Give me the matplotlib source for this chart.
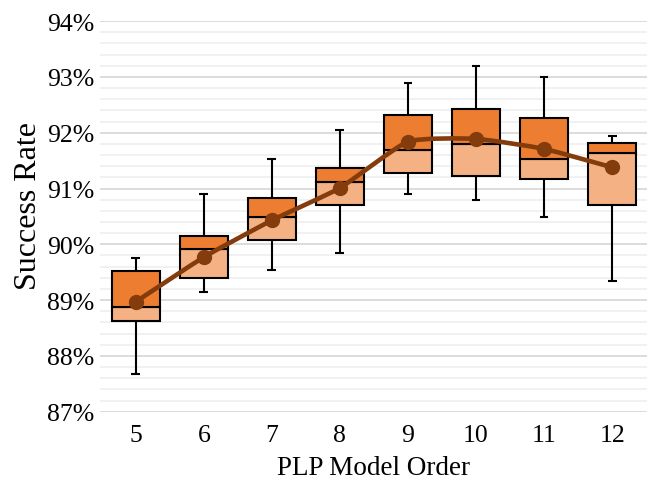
import numpy as np
import matplotlib
matplotlib.use("Agg")
from matplotlib import pyplot as plt, patches as pth
from matplotlib.path import Path
from matplotlib.ticker import MultipleLocator, FuncFormatter

# PLP model orders and box statistics (percent)
orders = [5, 6, 7, 8, 9, 10, 11, 12]
whisker_low = [87.67, 89.14, 89.54, 89.85, 90.91, 90.80, 90.49, 89.34]
q1 = [88.63, 89.39, 90.08, 90.70, 91.28, 91.22, 91.17, 90.70]
median = [88.87, 89.91, 90.49, 91.12, 91.69, 91.80, 91.53, 91.63]
q3 = [89.52, 90.15, 90.83, 91.37, 92.31, 92.42, 92.27, 91.82]
whisker_high = [89.75, 90.90, 91.53, 92.05, 92.89, 93.20, 92.99, 91.95]
mean = [88.97, 89.77, 90.43, 91.01, 91.84, 91.89, 91.71, 91.38]

DARK = "#ED7D31"
LIGHT = "#F4B183"
BROWN = "#843C0C"

plt.rcParams['font.family'] = ['Liberation Serif', 'DejaVu Serif']

fig = plt.figure(figsize=(6.56, 4.81), dpi=100)
ax = fig.add_axes([0.152, 0.142, 0.834, 0.812])

pos = np.arange(len(orders))
width = 0.71

# two-tone boxes: lower half light, upper half dark
ax.bar(pos, np.array(median) - np.array(q1), bottom=q1, width=width,
       color=LIGHT, edgecolor="black", linewidth=1.5, zorder=3)
ax.bar(pos, np.array(q3) - np.array(median), bottom=median, width=width,
       color=DARK, edgecolor="black", linewidth=1.5, zorder=3)

# whiskers and caps
ax.vlines(pos, q3, whisker_high, color="black", linewidth=1.5, zorder=2)
ax.vlines(pos, whisker_low, q1, color="black", linewidth=1.5, zorder=2)
cap = 0.065
ax.hlines(whisker_high, pos - cap, pos + cap, color="black", linewidth=1.5, zorder=2)
ax.hlines(whisker_low, pos - cap, pos + cap, color="black", linewidth=1.5, zorder=2)

# smoothed mean line (Bezier through mean points)
pts = np.column_stack([pos, mean]).astype(float)
verts = [pts[0]]
codes = [Path.MOVETO]
for i in range(len(pts) - 1):
    p0 = pts[i - 1] if i > 0 else pts[i]
    p1 = pts[i]
    p2 = pts[i + 1]
    p3 = pts[i + 2] if i + 2 < len(pts) else pts[i + 1]
    c1 = p1 + (p2 - p0) / 12.0
    c2 = p2 - (p3 - p1) / 12.0
    verts += [c1, c2, p2]
    codes += [Path.CURVE4] * 3
ax.add_patch(pth.PathPatch(Path(verts, codes), facecolor="none",
                           edgecolor=BROWN, linewidth=3.3, zorder=4,
                           capstyle="round", joinstyle="round"))
ax.plot(pos, mean, linestyle="none", marker="o", markersize=10,
        color=BROWN, zorder=5)

ax.set_ylim(87, 94)
ax.set_xlim(-0.53, 7.51)
ax.yaxis.set_major_locator(MultipleLocator(1))
ax.yaxis.set_minor_locator(MultipleLocator(0.2))
ax.yaxis.set_major_formatter(FuncFormatter(lambda v, _: f"{v:.0f}%"))
ax.set_xticks(pos)
ax.set_xticklabels([str(o) for o in orders])

ax.grid(axis="y", which="major", color="#D9D9D9", linewidth=1.3, zorder=0)
ax.grid(axis="y", which="minor", color="#F0F0F0", linewidth=1.3, zorder=0)
ax.set_axisbelow(True)
for s in ax.spines.values():
    s.set_visible(False)
ax.tick_params(axis="both", which="both", length=0, labelsize=18.5)
ax.tick_params(axis="x", pad=9)
ax.tick_params(axis="y", pad=4)

ax.set_xlabel("PLP Model Order", fontsize=19.5, labelpad=6)
ax.set_ylabel("Success Rate", fontsize=23)
ax.yaxis.set_label_coords(-0.104, 0.53)

fig.savefig("out.png", dpi=100)
